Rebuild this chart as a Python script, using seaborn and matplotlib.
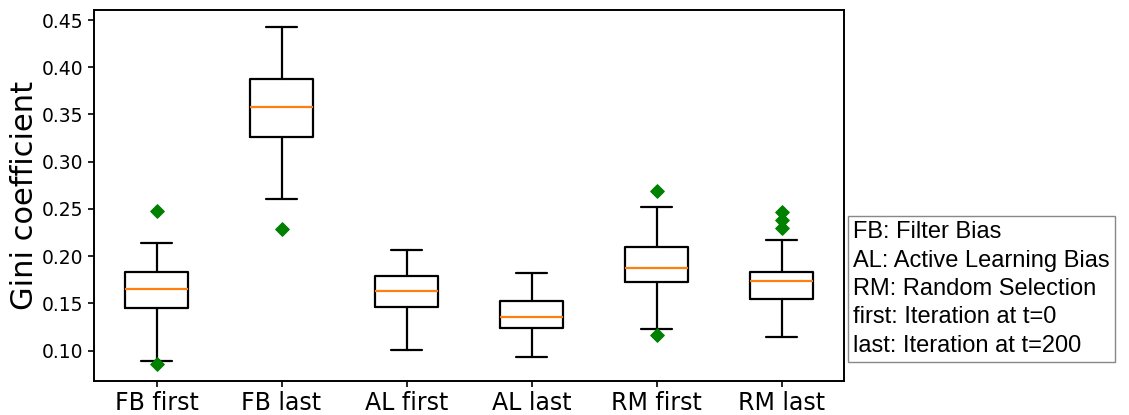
import matplotlib
matplotlib.use("Agg")
import matplotlib.pyplot as plt
import seaborn as sns
import pandas as pd

# ---- data ----
labels = ["FB first", "FB last", "AL first", "AL last", "RM first", "RM last"]
whislo = [0.089, 0.261, 0.101, 0.093, 0.123, 0.114]
q1     = [0.1455, 0.3265, 0.146, 0.124, 0.1725, 0.1547]
med    = [0.1653, 0.358, 0.1635, 0.1357, 0.1879, 0.1741]
q3     = [0.183, 0.3876, 0.1787, 0.1526, 0.2094, 0.183]
whishi = [0.2143, 0.4422, 0.2069, 0.1819, 0.2517, 0.2171]

flier_group = ["FB first", "FB first", "FB last", "RM first", "RM first", "RM last", "RM last", "RM last"]
flier_value = [0.2482, 0.0859, 0.2285, 0.2687, 0.1163, 0.247, 0.238, 0.230]

legend_lines = ["FB: Filter Bias", "AL: Active Learning Bias", "RM: Random Selection",
                "first: Iteration at t=0", "last: Iteration at t=200"]

sns.set_style("white")
plt.rcParams["font.family"] = ["DejaVu Sans"]
plt.rcParams["text.color"] = "black"
plt.rcParams["axes.labelcolor"] = "black"
plt.rcParams["xtick.color"] = "black"
plt.rcParams["ytick.color"] = "black"

fig = plt.figure(figsize=(11.29, 4.15), dpi=100)
ax = fig.add_axes([0.0833, 0.0819, 0.6643, 0.894])

stats = []
for i, lab in enumerate(labels):
    stats.append(dict(label=lab, whislo=whislo[i], q1=q1[i], med=med[i],
                      q3=q3[i], whishi=whishi[i], fliers=[]))

lw = 1.6
ax.bxp(stats, showfliers=False, widths=0.5,
       boxprops=dict(color="black", linewidth=lw),
       whiskerprops=dict(color="black", linewidth=lw),
       capprops=dict(color="black", linewidth=lw),
       medianprops=dict(color="#ff7f0e", linewidth=lw))

fl = pd.DataFrame({"group": flier_group, "value": flier_value})
fl["pos"] = fl["group"].map({lab: i + 1 for i, lab in enumerate(labels)})
sns.scatterplot(data=fl, x="pos", y="value", marker="D", s=48,
                color="green", edgecolor="green", linewidth=0.8,
                legend=False, ax=ax, zorder=3)

ax.set_xlim(0.5, 6.5)
ax.set_ylim(0.0679, 0.4606)
ticks = [0.10, 0.15, 0.20, 0.25, 0.30, 0.35, 0.40, 0.45]
ax.set_yticks(ticks)
ax.set_yticklabels([f"{v:.2f}" for v in ticks])
ax.set_xticks(range(1, 7))
ax.set_xticklabels(labels)
ax.set_xlabel("")
ax.set_ylabel("Gini coefficient", fontsize=22, labelpad=2)
ax.tick_params(axis="y", labelsize=13.5, length=4, width=1.2, left=True)
ax.tick_params(axis="x", labelsize=17, length=4, width=1.2, bottom=True)
for sp in ax.spines.values():
    sp.set_color("black")
    sp.set_linewidth(1.4)

fig.text(0.7555, 0.3036, "\n".join(legend_lines), family=["Liberation Sans", "DejaVu Sans"],
         fontsize=17, va="center", ha="left", linespacing=1.38,
         bbox=dict(boxstyle="square,pad=0.22", fc="white", ec="#888888", lw=1.0))

fig.savefig("out.png", dpi=100)
